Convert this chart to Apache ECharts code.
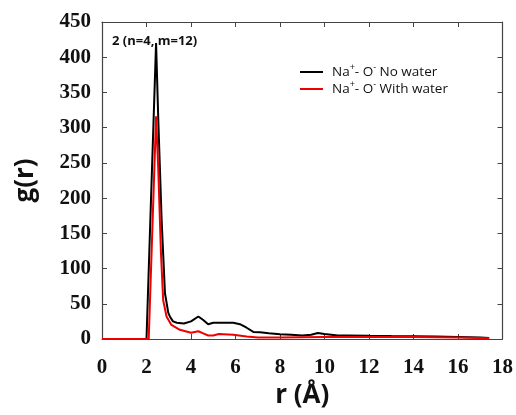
<!DOCTYPE html>
<html>
<head>
<meta charset="utf-8">
<script src="https://cdn.jsdelivr.net/npm/echarts@6/dist/echarts.min.js"></script>
<style>html,body{margin:0;padding:0;background:#fff}#c{width:516px;height:415px}</style>
</head>
<body>
<div id="c"></div>
<script>
// Data
const rNoWater = [0, 2.0, 2.08, 2.43, 2.53, 2.68, 2.83, 2.98, 3.05, 3.19, 3.36, 3.68, 4.0, 4.33, 4.55, 4.77, 5.0, 5.5, 5.9, 6.2, 6.5, 6.8, 7.1, 7.5, 8.0, 8.5, 9.0, 9.4, 9.7, 10.0, 10.6, 11, 12, 13, 14, 15, 16, 17, 17.4];
const gNoWater = [0, 0, 1, 420, 311, 169, 65, 37, 32, 25, 23, 22, 25, 32, 27, 21, 23, 23, 23, 21, 16, 10, 9.5, 8, 6.6, 6, 5, 6, 8.5, 7, 5, 5, 4.5, 4.2, 4, 3.5, 3, 2, 1.5];
const rWithWater = [0, 2.1, 2.16, 2.43, 2.53, 2.65, 2.75, 2.9, 3.12, 3.5, 4.0, 4.33, 4.55, 4.77, 5.0, 5.25, 5.9, 6.5, 7.0, 8, 10, 12, 14, 16, 17.4];
const gWithWater = [0, 0, 1, 316, 240, 122, 55, 32, 20, 13, 9, 11, 8, 5, 5, 7, 6, 3.5, 2, 2, 3, 3, 3, 2, 1];
const seriesNames = ['Na+- O- No water', 'Na+- O- With water'];
const legendRich = {
  'Na+- O- No water': '{t|Na}{s|+}{t|- O}{s|-}{t| No water}',
  'Na+- O- With water': '{t|Na}{s|+}{t|- O}{s|-}{t| With water}'
};
const annotation = '2 (n=4, m=12)';
const xTitle = 'r (\u00C5)';
const yTitle = 'g(r)';

const zip = (a, b) => a.map((v, i) => [v, b[i]]);
const chart = echarts.init(document.getElementById('c'), null, {renderer: 'canvas'});
const frame = {show: true, onZero: false, lineStyle: {color: '#444', width: 1.2}};
const tickIn = {show: true, inside: true, length: 5, lineStyle: {color: '#444'}};
const numFont = {fontFamily: 'Liberation Serif', fontWeight: 'bold', fontSize: 21, color: '#111'};
chart.setOption({
  animation: false,
  backgroundColor: '#fff',
  grid: {left: 102, right: 13, top: 22, bottom: 76},
  xAxis: [{
    type: 'value', min: 0, max: 18, interval: 2,
    axisLine: frame, axisTick: tickIn, splitLine: {show: false},
    axisLabel: Object.assign({margin: 18}, numFont),
    name: xTitle, nameLocation: 'middle', nameGap: 37,
    nameTextStyle: {fontFamily: 'Open Sans', fontWeight: 'bold', fontSize: 26, color: '#111'}
  }, {
    type: 'value', position: 'top', min: 0, max: 18, interval: 2,
    axisLine: frame, axisTick: tickIn, axisLabel: {show: false}, splitLine: {show: false}
  }],
  yAxis: [{
    type: 'value', min: 0, max: 450, interval: 50,
    axisLine: frame, axisTick: tickIn, splitLine: {show: false},
    axisLabel: Object.assign({margin: 11}, numFont),
    name: yTitle, nameLocation: 'middle', nameGap: 63,
    nameTextStyle: {fontFamily: 'Open Sans', fontWeight: 'bold', fontSize: 26, color: '#111'}
  }, {
    type: 'value', position: 'right', min: 0, max: 450, interval: 50,
    axisLine: frame, axisTick: tickIn, axisLabel: {show: false}, splitLine: {show: false}
  }],
  legend: {
    orient: 'vertical', left: 295, top: 58, itemWidth: 23, itemHeight: 2, itemGap: 1,
    icon: 'rect',
    formatter: name => legendRich[name],
    textStyle: {
      fontFamily: 'Open Sans', fontSize: 13.5, color: '#111', padding: [0, 0, 0, 4],
      rich: {
        t: {fontFamily: 'Open Sans', fontSize: 13.5, color: '#111'},
        s: {fontFamily: 'Open Sans', fontSize: 9, color: '#111', padding: [0, 0, 9, 0]}
      }
    },
    data: seriesNames
  },
  graphic: [{
    type: 'text', left: 112, top: 35,
    style: {text: annotation, font: 'bold 13px "Open Sans"', fill: '#111'}
  }],
  series: [{
    name: seriesNames[0], type: 'line', data: zip(rNoWater, gNoWater),
    symbol: 'none', lineStyle: {color: '#000', width: 2}, itemStyle: {color: '#000'}, z: 2
  }, {
    name: seriesNames[1], type: 'line', data: zip(rWithWater, gWithWater),
    symbol: 'none', lineStyle: {color: '#ee0000', width: 2}, itemStyle: {color: '#ee0000'}, z: 3
  }]
});
</script>
</body>
</html>
